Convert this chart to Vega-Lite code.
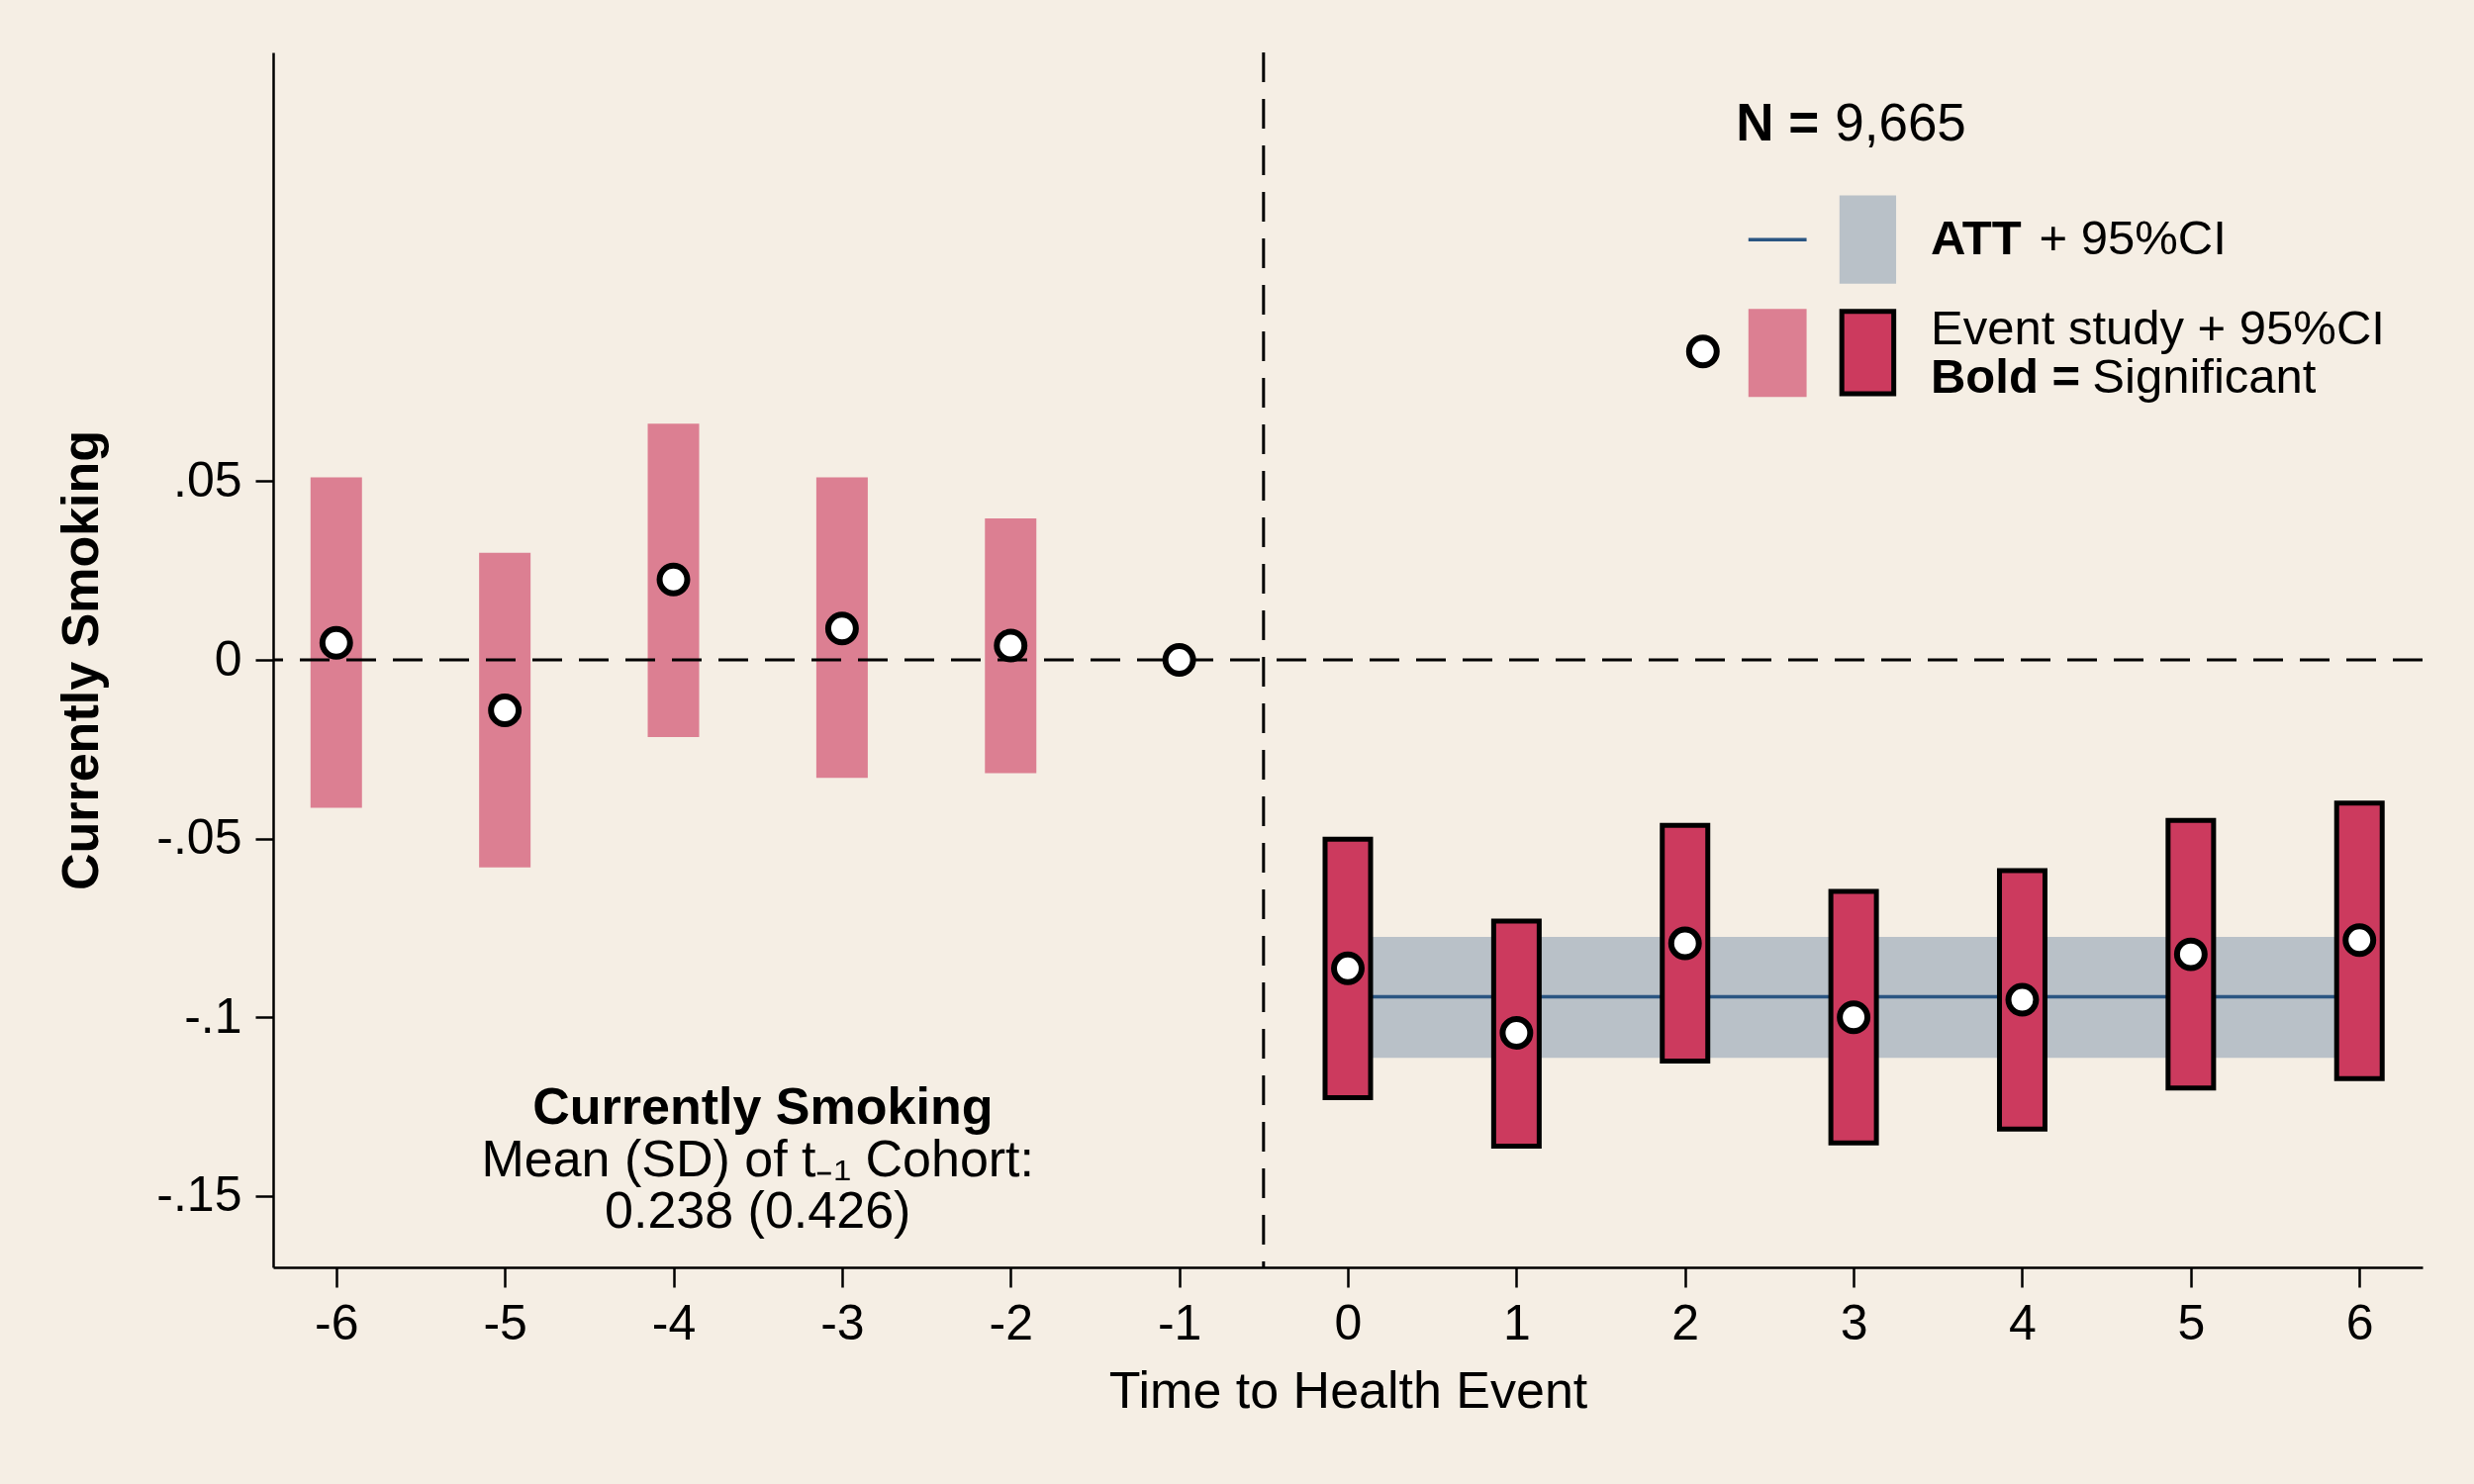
{
  "$schema": "https://vega.github.io/schema/vega-lite/v6.json",
  "description": "Event study of currently smoking around a health event.",
  "autosize": {"type": "none"},
  "padding": {"left": 276, "top": 53, "right": 52, "bottom": 219},
  "width": 2172,
  "height": 1228,
  "background": "#F5EEE4",
  "config": {
    "view": {"stroke": null},
    "font": "Liberation Sans",
    "axis": {
      "grid": false,
      "domainColor": "black",
      "domainWidth": 2.5,
      "tickColor": "black",
      "tickWidth": 2.5,
      "labelColor": "black",
      "titleColor": "black",
      "labelFont": "Liberation Sans",
      "titleFont": "Liberation Sans"
    }
  },
  "data": {"values": [{}]},
  "datasets": {
    "es": [
      {"t": -6, "est": 0.0048, "lo": -0.0414, "hi": 0.0511, "group": "pre"},
      {"t": -5, "est": -0.0141, "lo": -0.0581, "hi": 0.0300, "group": "pre"},
      {"t": -4, "est": 0.0225, "lo": -0.0216, "hi": 0.0661, "group": "pre"},
      {"t": -3, "est": 0.0088, "lo": -0.0330, "hi": 0.0511, "group": "pre"},
      {"t": -2, "est": 0.0040, "lo": -0.0317, "hi": 0.0396, "group": "pre"},
      {"t": -1, "est": 0.0, "lo": null, "hi": null, "group": "ref"},
      {"t": 0, "est": -0.0863, "lo": -0.1225, "hi": -0.0502, "group": "post"},
      {"t": 1, "est": -0.1044, "lo": -0.1361, "hi": -0.0731, "group": "post"},
      {"t": 2, "est": -0.0793, "lo": -0.1123, "hi": -0.0463, "group": "post"},
      {"t": 3, "est": -0.1000, "lo": -0.1352, "hi": -0.0648, "group": "post"},
      {"t": 4, "est": -0.0951, "lo": -0.1313, "hi": -0.0590, "group": "post"},
      {"t": 5, "est": -0.0824, "lo": -0.1198, "hi": -0.0449, "group": "post"},
      {"t": 6, "est": -0.0784, "lo": -0.1172, "hi": -0.0401, "group": "post"}
    ],
    "att": [
      {"from": 0, "to": 6, "att": -0.0943, "lo": -0.1114, "hi": -0.0775}
    ]
  },
  "layer": [
    {
      "data": {"name": "att"},
      "mark": {"type": "rect", "color": "#B9C1C8"},
      "encoding": {
        "x": {
          "field": "from", "type": "quantitative",
          "scale": {"domain": [-6.345, 6.345], "nice": false, "zero": false},
          "axis": {
            "values": [-6, -5, -4, -3, -2, -1, 0, 1, 2, 3, 4, 5, 6],
            "labelExpr": "toString(datum.value)",
            "labelFontSize": 50,
            "labelPadding": 12,
            "tickSize": 20,
            "title": "Time to Health Event",
            "titleFontSize": 52,
            "titleFontWeight": "normal",
            "titlePadding": 18
          }
        },
        "x2": {"field": "to"},
        "y": {
          "field": "lo", "type": "quantitative",
          "scale": {"domain": [-0.17, 0.17], "nice": false, "zero": false},
          "axis": {
            "values": [-0.15, -0.1, -0.05, 0, 0.05],
            "labelExpr": "abs(datum.value) < 0.001 ? '0' : (datum.value < 0 ? '-' : '') + replace(toString(abs(datum.value)), '0.', '.')",
            "labelFontSize": 50,
            "labelPadding": 14,
            "tickSize": 18,
            "title": "Currently Smoking",
            "titleFontSize": 52,
            "titleFontWeight": "bold",
            "titlePadding": 48
          }
        },
        "y2": {"field": "hi"}
      }
    },
    {
      "data": {"name": "att"},
      "mark": {"type": "rule", "color": "#2A5582", "strokeWidth": 3.5},
      "encoding": {
        "x": {"field": "from", "type": "quantitative"},
        "x2": {"field": "to"},
        "y": {"field": "att", "type": "quantitative"}
      }
    },
    {
      "data": {"name": "es"},
      "transform": [{"filter": "datum.group == 'pre'"}],
      "mark": {"type": "bar", "color": "#DC7F92", "size": 52},
      "encoding": {
        "x": {"field": "t", "type": "quantitative"},
        "y": {"field": "lo", "type": "quantitative"},
        "y2": {"field": "hi"}
      }
    },
    {
      "data": {"name": "es"},
      "transform": [{"filter": "datum.group == 'post'"}],
      "mark": {"type": "bar", "color": "#CC3A5E", "stroke": "black", "strokeWidth": 5, "size": 46},
      "encoding": {
        "x": {"field": "t", "type": "quantitative"},
        "y": {"field": "lo", "type": "quantitative"},
        "y2": {"field": "hi"}
      }
    },
    {
      "mark": {"type": "rule", "color": "black", "strokeWidth": 3, "strokeDash": [30, 17]},
      "encoding": {"y": {"datum": 0}}
    },
    {
      "mark": {"type": "rule", "color": "black", "strokeWidth": 3, "strokeDash": [30, 17]},
      "encoding": {"x": {"datum": -0.5}}
    },
    {
      "data": {"name": "es"},
      "mark": {"type": "point", "shape": "circle", "filled": true, "fill": "white", "stroke": "black", "strokeWidth": 6, "size": 780, "opacity": 1},
      "encoding": {
        "x": {"field": "t", "type": "quantitative"},
        "y": {"field": "est", "type": "quantitative"}
      }
    },
    {
      "mark": {"type": "text", "text": "Currently Smoking", "fontSize": 52, "fontWeight": "bold", "align": "center", "baseline": "middle", "color": "black"},
      "encoding": {"x": {"datum": -3.47}, "y": {"datum": -0.1255}}
    },
    {
      "mark": {"type": "text", "text": "Mean (SD) of t₋₁ Cohort:", "fontSize": 52, "align": "center", "baseline": "middle", "color": "black"},
      "encoding": {"x": {"datum": -3.5}, "y": {"datum": -0.1401}}
    },
    {
      "mark": {"type": "text", "text": "0.238 (0.426)", "fontSize": 52, "align": "center", "baseline": "middle", "color": "black"},
      "encoding": {"x": {"datum": -3.5}, "y": {"datum": -0.1546}}
    },
    {
      "mark": {"type": "text", "text": "N =", "fontSize": 53, "fontWeight": "bold", "align": "left", "baseline": "middle", "color": "black"},
      "encoding": {"x": {"datum": 2.302}, "y": {"datum": 0.1498}}
    },
    {
      "mark": {"type": "text", "text": "9,665", "fontSize": 53, "align": "left", "baseline": "middle", "color": "black"},
      "encoding": {"x": {"datum": 2.889}, "y": {"datum": 0.1498}}
    },
    {
      "mark": {"type": "rule", "color": "#2A5582", "strokeWidth": 3.5},
      "encoding": {"x": {"datum": 2.376}, "x2": {"datum": 2.721}, "y": {"datum": 0.1176}}
    },
    {
      "mark": {"type": "rect", "color": "#B9C1C8"},
      "encoding": {"x": {"datum": 2.916}, "x2": {"datum": 3.252}, "y": {"datum": 0.1053}, "y2": {"datum": 0.1300}}
    },
    {
      "mark": {"type": "text", "text": "ATT", "fontSize": 49, "fontWeight": "bold", "align": "left", "baseline": "middle", "color": "black"},
      "encoding": {"x": {"datum": 3.457}, "y": {"datum": 0.1176}}
    },
    {
      "mark": {"type": "text", "text": "+ 95%CI", "fontSize": 49, "align": "left", "baseline": "middle", "color": "black"},
      "encoding": {"x": {"datum": 4.1}, "y": {"datum": 0.1176}}
    },
    {
      "mark": {"type": "rect", "color": "#DC7F92"},
      "encoding": {"x": {"datum": 2.376}, "x2": {"datum": 2.721}, "y": {"datum": 0.0736}, "y2": {"datum": 0.0982}}
    },
    {
      "mark": {"type": "rect", "color": "#CC3A5E", "stroke": "black", "strokeWidth": 5},
      "encoding": {"x": {"datum": 2.93}, "x2": {"datum": 3.238}, "y": {"datum": 0.0745}, "y2": {"datum": 0.0975}}
    },
    {
      "mark": {"type": "point", "shape": "circle", "filled": true, "fill": "white", "stroke": "black", "strokeWidth": 6, "size": 780, "opacity": 1},
      "encoding": {"x": {"datum": 2.106}, "y": {"datum": 0.0863}}
    },
    {
      "mark": {"type": "text", "text": "Event study + 95%CI", "fontSize": 49, "align": "left", "baseline": "middle", "color": "black"},
      "encoding": {"x": {"datum": 3.457}, "y": {"datum": 0.0925}}
    },
    {
      "mark": {"type": "text", "text": "Bold =", "fontSize": 49, "fontWeight": "bold", "align": "left", "baseline": "middle", "color": "black"},
      "encoding": {"x": {"datum": 3.457}, "y": {"datum": 0.0789}}
    },
    {
      "mark": {"type": "text", "text": "Significant", "fontSize": 49, "align": "left", "baseline": "middle", "color": "black"},
      "encoding": {"x": {"datum": 4.416}, "y": {"datum": 0.0789}}
    }
  ]
}
